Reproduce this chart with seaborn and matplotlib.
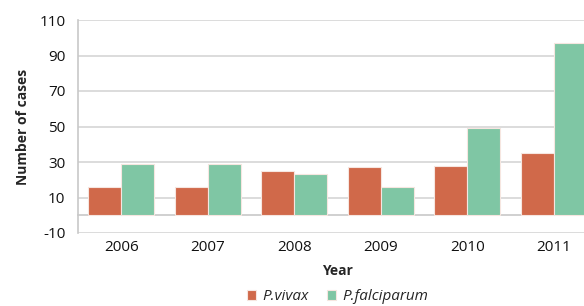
import numpy as np
import pandas as pd
import seaborn as sns
import matplotlib.pyplot as plt

years = ['2006', '2007', '2008', '2009', '2010', '2011']
vivax = [16, 16, 25, 27, 28, 35]
falciparum = [29, 29, 23, 16, 49, 97]
species = ['P.vivax', 'P.falciparum']
colors = ['#D0694A', '#7FC6A4']

df = pd.DataFrame({
    'Year': years * 2,
    'cases': vivax + falciparum,
    'species': [species[0]] * len(years) + [species[1]] * len(years),
})

sns.set_style('white')
plt.rcParams['font.family'] = ['Open Sans', 'DejaVu Sans']
plt.rcParams['axes.unicode_minus'] = False

fig = plt.figure(figsize=(5.84, 3.06), dpi=100)
# plot area runs past the right edge, as in the cropped original
ax = fig.add_axes([78/584, 1-233/306, (597-78)/584, (233-20)/306])

sns.barplot(data=df, x='Year', y='cases', hue='species', palette=colors,
            saturation=1, width=0.76, edgecolor='#f6e6e0', linewidth=0.8,
            ax=ax, zorder=3)

ax.set_ylim(-10, 110)
ax.set_xlim(-0.5, 5.5)
ax.set_yticks(np.arange(-10, 111, 20))
ax.yaxis.grid(True, color='#d9d9d9', linewidth=1.3, zorder=0)
ax.set_axisbelow(True)

for s in ['top', 'right']:
    ax.spines[s].set_visible(False)
ax.spines['left'].set_color('#c8c8c8')
ax.spines['left'].set_linewidth(1.2)
ax.spines['bottom'].set_position(('data', 0))
ax.spines['bottom'].set_color('#c8c8c8')
ax.spines['bottom'].set_linewidth(1.2)

ax.set_xticks(np.arange(-0.5, 5.6, 1), minor=True)
ax.tick_params(axis='x', which='minor', length=4, color='#c8c8c8', width=1.2, direction='out')
ax.tick_params(axis='x', which='major', length=0, pad=18, labelsize=11, colors='#111111')
ax.tick_params(axis='y', length=3, color='#c8c8c8', width=1.2, pad=6, labelsize=11, colors='#111111')

ax.set_ylabel('Number of cases', fontsize=10, fontweight='bold', labelpad=7)
ax.set_xlabel('Year', fontsize=10, fontweight='bold', labelpad=6)

handles, labels = ax.get_legend_handles_labels()
ax.legend(handles, labels, loc='center', bbox_to_anchor=(0.5, -0.30), ncol=2,
          frameon=False, prop={'style': 'italic', 'size': 11},
          handlelength=0.6, handleheight=0.6, handletextpad=0.4, columnspacing=1.2,
          borderpad=0.2)

fig.savefig('out.png', dpi=100)
